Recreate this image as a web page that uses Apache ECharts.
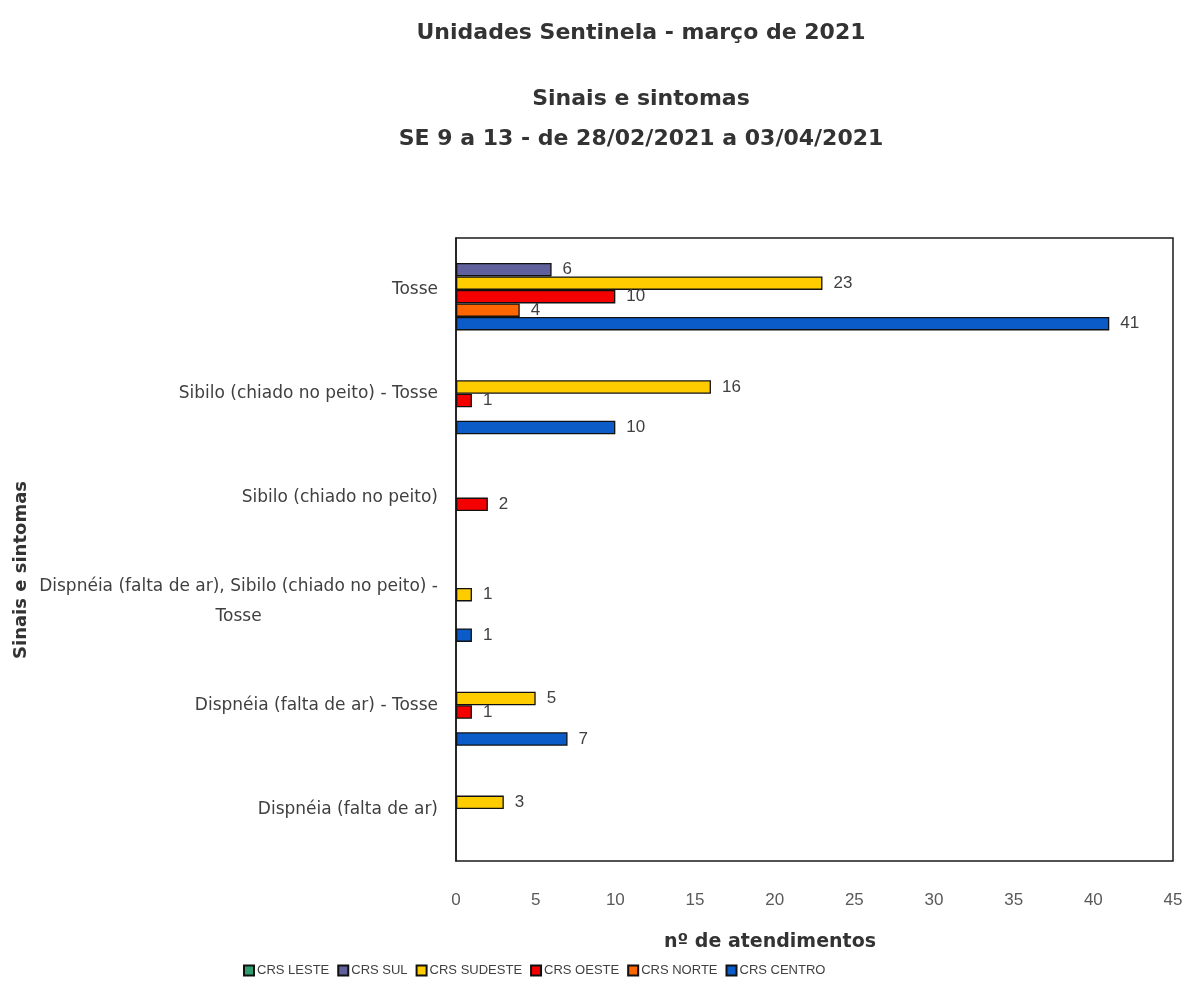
<!DOCTYPE html>
<html><head><meta charset="utf-8">
<script src="https://cdn.jsdelivr.net/npm/echarts@6/dist/echarts.min.js"></script>
<style>html,body{margin:0;padding:0;background:#fff}#c{width:1186px;height:989px}</style>
</head><body><div id="c"></div>
<script>
const categories = [
  'Tosse',
  'Sibilo (chiado no peito) - Tosse',
  'Sibilo (chiado no peito)',
  'Dispnéia (falta de ar), Sibilo (chiado no peito) - Tosse',
  'Dispnéia (falta de ar) - Tosse',
  'Dispnéia (falta de ar)'
];
const seriesNames = ['CRS LESTE','CRS SUL','CRS SUDESTE','CRS OESTE','CRS NORTE','CRS CENTRO'];
const crsLeste   = [0, 0, 0, 0, 0, 0];
const crsSul     = [6, 0, 0, 0, 0, 0];
const crsSudeste = [23, 16, 0, 1, 5, 3];
const crsOeste   = [10, 1, 2, 0, 1, 0];
const crsNorte   = [4, 0, 0, 0, 0, 0];
const crsCentro  = [41, 10, 0, 1, 7, 0];
const xTicks = [0, 45, 5];
const colors = ['#2e9e6e','#60609c','#ffcc00','#f50000','#ff6600','#0b5cc8'];

const values = [crsLeste, crsSul, crsSudeste, crsOeste, crsNorte, crsCentro];
const chart = echarts.init(document.getElementById('c'), null, {renderer:'canvas'});
const series = seriesNames.map((n, i) => ({
  name: n, type: 'bar',
  data: values[i].map(v => v === 0 ? '-' : v),
  barWidth: 13.5, barGap: '0%',
  itemStyle: {color: colors[i], borderColor: '#111', borderWidth: 1.3},
  label: {show: true, position: 'right', distance: 11, color: '#404040',
          fontFamily: 'Liberation Sans', fontSize: 17},
  emphasis: {disabled: true}
}));
const titleStyle = {fontFamily: 'DejaVu Sans', fontWeight: 'bold', fontSize: 22, color: '#333'};
chart.setOption({
  animation: false,
  backgroundColor: '#fff',
  title: [
    {text: 'Unidades Sentinela - março de 2021', left: 636, top: 17, textAlign: 'center', textStyle: titleStyle},
    {text: 'Sinais e sintomas', left: 636, top: 83, textAlign: 'center', textStyle: titleStyle},
    {text: 'SE 9 a 13 - de 28/02/2021 a 03/04/2021', left: 636, top: 123, textAlign: 'center', textStyle: titleStyle},
    {text: 'nº de atendimentos', left: 765, top: 928, textAlign: 'center',
     textStyle: {fontFamily: 'DejaVu Sans', fontWeight: 'bold', fontSize: 19, color: '#333'}}
  ],
  graphic: [{
    type: 'text', x: 21, y: 570, rotation: Math.PI / 2,
    style: {text: 'Sinais e sintomas', fill: '#333', font: 'bold 18px "DejaVu Sans"',
            textAlign: 'center', textVerticalAlign: 'middle'}
  }],
  legend: {
    data: seriesNames, left: 238, top: 959, icon: 'rect', itemWidth: 10, itemHeight: 10, itemGap: 8,
    textStyle: {fontFamily: 'Liberation Sans', fontSize: 13, color: '#404040', padding: [0,0,0,-2]},
    selectedMode: false
  },
  grid: {left: 456, right: 13, top: 238, bottom: 128, show: true,
         borderColor: '#1a1a1a', borderWidth: 1.5, containLabel: false},
  xAxis: {
    type: 'value', min: xTicks[0], max: xTicks[1], interval: xTicks[2],
    axisLine: {show: false}, axisTick: {show: false}, splitLine: {show: false},
    axisLabel: {color: '#595959', fontFamily: 'Liberation Sans', fontSize: 17, margin: 31}
  },
  yAxis: {
    type: 'category', data: categories, inverse: true,
    axisLine: {show: true, lineStyle: {color: '#1a1a1a', width: 1.5}},
    axisTick: {show: false},
    axisLabel: {
      color: '#404040', fontFamily: 'DejaVu Sans', fontSize: 17, margin: 18,
      formatter: function (v) {
        if (v.indexOf('Dispnéia (falta de ar), Sibilo') === 0) {
          return '{c|Dispnéia (falta de ar), Sibilo (chiado no peito) -}\n{c|Tosse}';
        }
        return v;
      },
      rich: {c: {align: 'center', color: '#404040', fontFamily: 'DejaVu Sans', fontSize: 17, lineHeight: 30}}
    }
  },
  series: series
});
</script></body></html>
